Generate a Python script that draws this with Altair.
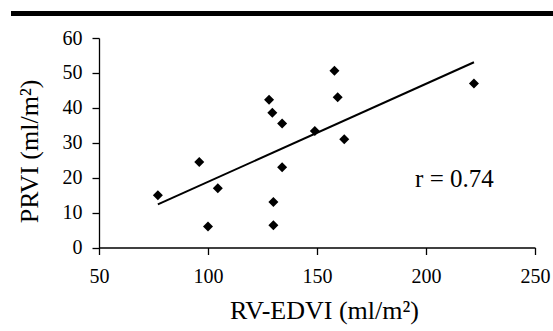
import altair as alt
import pandas as pd

# Data
rv_edvi = [77, 96, 100, 104.5, 128, 129.5, 134, 134, 130, 130, 158, 159.5, 149, 162.5, 222]
prvi = [15, 24.5, 6, 17, 42.3, 38.6, 35.5, 23, 13, 6.4, 50.6, 43, 33.4, 31, 47]

x_ticks = [50, 100, 150, 200, 250]
y_ticks = [0, 10, 20, 30, 40, 50, 60]

annot_text = ["r = 0.74"]
annot_x = [195]
annot_y = [17.4]

df = pd.DataFrame({"x": rv_edvi, "y": prvi})
ann = pd.DataFrame({"x": annot_x, "y": annot_y, "t": annot_text})

FONT = "Liberation Serif"

xscale = alt.Scale(domain=[50, 250], nice=False, zero=False)
yscale = alt.Scale(domain=[0, 60], nice=False)

xaxis = alt.Axis(
    values=x_ticks, title="RV-EDVI (ml/m²)", grid=False,
    labelOverlap=False, labelFlush=False,
    domainColor="black", domainWidth=1.3, tickColor="black", tickWidth=1.3, tickSize=7,
    labelFont=FONT, labelFontSize=20, labelColor="black", labelPadding=28,
    labelBaseline="alphabetic",
    titleFont=FONT, titleFontSize=26, titleFontWeight="normal", titleColor="black",
    titleBaseline="alphabetic", titleX=225, titleY=70.5, titleAnchor="middle",
)
yaxis = alt.Axis(
    values=y_ticks, title="PRVI (ml/m²)", grid=False,
    labelOverlap=False, labelFlush=False,
    domainColor="black", domainWidth=1.3, tickColor="black", tickWidth=1.3, tickSize=7,
    labelFont=FONT, labelFontSize=20, labelColor="black", labelPadding=10,
    titleFont=FONT, titleFontSize=26, titleFontWeight="normal", titleColor="black",
    titleAngle=-90, titleBaseline="alphabetic", titleX=-62, titleY=113, titleAlign="center",
)

X = alt.X("x:Q", scale=xscale, axis=xaxis)
Y = alt.Y("y:Q", scale=yscale, axis=yaxis)

base = alt.Chart(df)

points = base.mark_point(shape="diamond", filled=True, color="black", size=100, opacity=1).encode(
    x=X, y=Y,
)

line = base.transform_regression("x", "y").mark_line(color="black", strokeWidth=2).encode(
    x=X, y=Y,
)

text = alt.Chart(ann).mark_text(
    font=FONT, fontSize=25, color="black", align="left", baseline="alphabetic"
).encode(
    x=X, y=Y, text="t:N",
)

topbar = alt.Chart(ann).mark_rule(color="black", strokeWidth=5, clip=False).encode(
    x=alt.value(-88), x2=alt.value(454), y=alt.value(-24.5)
)

chart = alt.layer(points, line, text, topbar).properties(
    width=436, height=209.5,
    autosize=alt.AutoSizeParams(type="none"),
    padding={"left": 99, "top": 38, "right": 18, "bottom": 83.5},
    background="white",
).configure_view(stroke=None)

chart.save("out.html", embed_options={"renderer": "svg", "actions": False})
